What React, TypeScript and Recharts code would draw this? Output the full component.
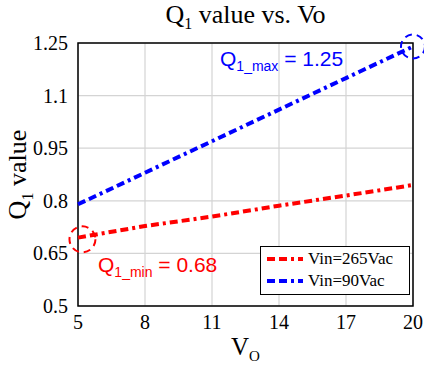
import {
  LineChart,
  Line,
  XAxis,
  YAxis,
  CartesianGrid,
  ReferenceArea,
  ReferenceDot,
} from "recharts";

const vo = [5, 8, 11, 14, 17, 20];
const q265 = [0.695, 0.728, 0.755, 0.786, 0.815, 0.845];
const q90 = [0.79, 0.88, 0.97, 1.06, 1.15, 1.24];
const xTicks = [5, 8, 11, 14, 17, 20];
const yTicks = [0.5, 0.65, 0.8, 0.95, 1.1, 1.25];
const seriesNames = ["Vin=265Vac", "Vin=90Vac"];
const seriesColors = ["#ff0000", "#0000ff"];

const data = vo.map((v, i) => ({ vo: v, low: q265[i], high: q90[i] }));

const serif = "'Liberation Serif', 'Times New Roman', serif";
const sans = "'Liberation Sans', Arial, sans-serif";
const dash = "8 4 8 4 3 4";

function renderXTick(props: any) {
  const { x, y, payload } = props;
  return (
    <text key={`x${payload.value}`} x={x} y={y + 15} textAnchor="middle" fontFamily="Liberation Serif" fontSize={20} fill="#000">
      {String(payload.value)}
    </text>
  );
}

function renderYTick(props: any) {
  const { x, y, payload } = props;
  return (
    <text key={`y${payload.value}`} x={x} y={y + 7} textAnchor="end" fontFamily="Liberation Serif" fontSize={20} fill="#000">
      {String(payload.value)}
    </text>
  );
}

export default function App() {
  return (
    <div
      style={{
        position: "absolute",
        left: 0,
        top: 0,
        width: 424,
        height: 367,
        background: "#fff",
        fontFamily: serif,
      }}
    >
      <LineChart
        width={424}
        height={367}
        data={data}
        margin={{ top: 43, right: 11, left: 0, bottom: 0 }}
      >
        <CartesianGrid stroke="#d4d4d4" strokeWidth={1.2} />
        <XAxis
          dataKey="vo"
          type="number"
          domain={[5, 20]}
          ticks={xTicks}
          height={61}
          axisLine={false}
          tickLine={false}
          tick={renderXTick}
          tickMargin={2}
        />
        <YAxis
          type="number"
          domain={[0.5, 1.25]}
          ticks={yTicks}
          width={78}
          axisLine={false}
          tickLine={false}
          tick={renderYTick}
          tickMargin={4}
        />
        <ReferenceArea x1={5} x2={20} y1={0.5} y2={1.25} fill="none" stroke="#000" strokeWidth={1.5} />
        <Line
          dataKey="low"
          name={seriesNames[0]}
          stroke={seriesColors[0]}
          strokeWidth={4}
          strokeDasharray={dash}
          dot={false}
          isAnimationActive={false}
        />
        <Line
          dataKey="high"
          name={seriesNames[1]}
          stroke={seriesColors[1]}
          strokeWidth={4}
          strokeDasharray={dash}
          dot={false}
          isAnimationActive={false}
        />
        <ReferenceDot
          x={5.2}
          y={0.69}
          r={13}
          fill="none"
          stroke="#ff0000"
          strokeWidth={2}
          strokeDasharray="7 5"
          ifOverflow="visible"
        />
        <ReferenceDot
          x={20}
          y={1.24}
          r={12}
          fill="none"
          stroke="#0000ff"
          strokeWidth={2}
          strokeDasharray="7 5"
          ifOverflow="visible"
        />
      </LineChart>

      <div style={{ position: "absolute", left: 78, width: 335, top: 0, textAlign: "center", fontSize: 26 }}>
        Q<sub style={{ fontSize: 16 }}>1</sub> value vs. Vo
      </div>
      <div
        style={{
          position: "absolute",
          left: -50,
          top: 158,
          width: 140,
          textAlign: "center",
          transform: "rotate(-90deg)",
          fontSize: 26,
        }}
      >
        Q<sub style={{ fontSize: 16 }}>1</sub> value
      </div>
      <div style={{ position: "absolute", left: 78, width: 335, top: 333, textAlign: "center", fontSize: 25 }}>
        V<sub style={{ fontSize: 15 }}>O</sub>
      </div>
      <div style={{ position: "absolute", left: 220, top: 47, fontFamily: sans, fontSize: 21, color: "#0000ff" }}>
        Q<sub style={{ fontSize: 14 }}>1_max</sub> = 1.25
      </div>
      <div style={{ position: "absolute", left: 98, top: 253, fontFamily: sans, fontSize: 21, color: "#ff0000" }}>
        Q<sub style={{ fontSize: 14 }}>1_min</sub> = 0.68
      </div>
      <div
        style={{
          position: "absolute",
          left: 260,
          top: 246,
          width: 142,
          border: "1px solid #000",
          background: "#fff",
          padding: "1px 0 2px 6px",
          fontSize: 17,
        }}
      >
        {seriesNames.map((n, i) => (
          <div key={n} style={{ display: "flex", alignItems: "center", height: 22 }}>
            <svg width={36} height={8} style={{ marginRight: 5 }}>
              <line x1={0} y1={4} x2={36} y2={4} stroke={seriesColors[i]} strokeWidth={4} strokeDasharray={dash} />
            </svg>
            {n}
          </div>
        ))}
      </div>
    </div>
  );
}
